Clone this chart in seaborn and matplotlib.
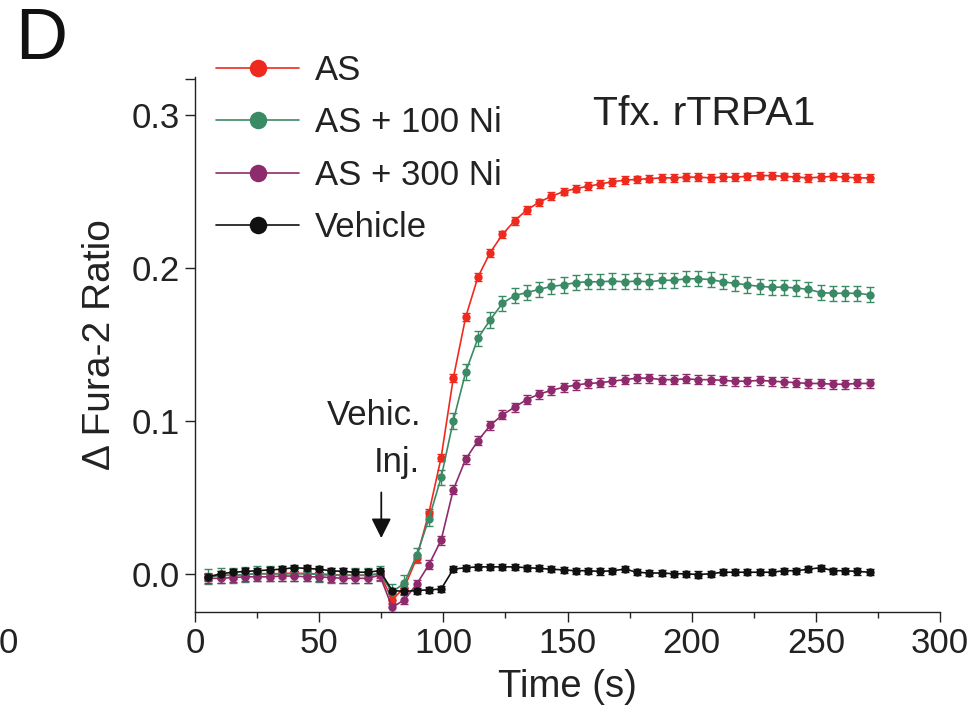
import numpy as np
import pandas as pd
import matplotlib
matplotlib.use("Agg")
import matplotlib.pyplot as plt
from matplotlib.ticker import FixedLocator
import seaborn as sns

time_s = [5.4, 10.3, 15.3, 20.2, 25.1, 30.1, 35.0, 39.9, 44.9, 49.8, 54.7, 59.6, 64.6, 69.5,
          74.4, 79.4, 84.3, 89.2, 94.2, 99.1, 104.0, 109.0, 113.9, 118.8, 123.8, 128.7, 133.6,
          138.5, 143.5, 148.4, 153.3, 158.3, 163.2, 168.1, 173.1, 178.0, 182.9, 187.9, 192.8,
          197.7, 202.6, 207.6, 212.5, 217.4, 222.4, 227.3, 232.2, 237.2, 242.1, 247.0, 252.0,
          256.9, 261.8, 266.7, 271.7]

as_vals = [-0.002, -0.001, -0.001, -0.0005, 0.0, 0.0, 0.0, 0.0005, 0.0, 0.0, -0.0005, -0.001,
           -0.001, -0.001, 0.0, -0.017, -0.009, 0.010, 0.040, 0.076, 0.128, 0.168, 0.194, 0.210,
           0.222, 0.231, 0.238, 0.243, 0.247, 0.250, 0.252, 0.2535, 0.255, 0.2565, 0.2575, 0.258,
           0.2585, 0.259, 0.259, 0.2595, 0.2595, 0.259, 0.2595, 0.2595, 0.260, 0.2605, 0.2605,
           0.260, 0.2595, 0.259, 0.2595, 0.260, 0.2595, 0.259, 0.259]

as100_vals = [-0.002, -0.001, -0.001, -0.0005, 0.0, 0.0, 0.0, 0.0, 0.0, -0.0005, -0.001, -0.001,
              -0.001, -0.001, 0.0, -0.012, -0.006, 0.012, 0.036, 0.063, 0.100, 0.132, 0.154,
              0.166, 0.177, 0.182, 0.184, 0.186, 0.188, 0.189, 0.1905, 0.191, 0.191, 0.1915,
              0.191, 0.1915, 0.191, 0.192, 0.192, 0.193, 0.193, 0.1925, 0.191, 0.190, 0.189,
              0.188, 0.1875, 0.1875, 0.187, 0.186, 0.184, 0.1835, 0.1835, 0.1835, 0.1825]

as300_vals = [-0.003, -0.003, -0.0025, -0.002, -0.002, -0.002, -0.0015, -0.0015, -0.002, -0.002,
              -0.0025, -0.003, -0.003, -0.003, -0.001, -0.022, -0.017, -0.007, 0.006, 0.022,
              0.055, 0.075, 0.087, 0.097, 0.104, 0.109, 0.114, 0.1175, 0.120, 0.122, 0.1235,
              0.1245, 0.125, 0.126, 0.127, 0.128, 0.128, 0.127, 0.127, 0.1275, 0.127, 0.127,
              0.1265, 0.126, 0.126, 0.1265, 0.126, 0.1255, 0.125, 0.1245, 0.1245, 0.124, 0.124,
              0.1245, 0.1245]

vehicle_vals = [-0.002, 0.0, 0.001, 0.0015, 0.002, 0.0025, 0.003, 0.004, 0.0035, 0.003, 0.002,
                0.0015, 0.001, 0.001, 0.002, -0.011, -0.0115, -0.011, -0.0105, -0.010, 0.003,
                0.004, 0.0045, 0.0045, 0.0045, 0.0045, 0.004, 0.0035, 0.003, 0.0025, 0.002, 0.002,
                0.0015, 0.002, 0.003, 0.001, 0.0005, 0.0005, 0.0, 0.0, -0.0005, 0.0, 0.001, 0.001,
                0.001, 0.001, 0.001, 0.002, 0.002, 0.003, 0.004, 0.002, 0.002, 0.0015, 0.001]

series_names = ["AS", "AS + 100 Ni", "AS + 300 Ni", "Vehicle"]
series_sem = [0.0025, 0.005, 0.003, 0.002]
series_colors = ["#EE2A1F", "#3B8A66", "#8E2B6C", "#111111"]

series_vals = [as_vals, as100_vals, as300_vals, vehicle_vals]
df = pd.concat([pd.DataFrame({"Time (s)": time_s, "ratio": v, "group": n})
                for n, v in zip(series_names, series_vals)], ignore_index=True)

sns.set_style("ticks")
plt.rcParams["font.family"] = ["Liberation Sans", "DejaVu Sans"]

fig = plt.figure(figsize=(9.76, 7.13), dpi=100)
ax = fig.add_axes([0.1998, 0.1417, 0.7634, 0.7503])

palette = dict(zip(series_names, series_colors))
for name, sem in zip(series_names, series_sem):
    sub = df[df["group"] == name]
    ax.errorbar(sub["Time (s)"], sub["ratio"], yerr=sem, fmt="none",
                ecolor=palette[name], elinewidth=1.0, capsize=3, capthick=1.0, zorder=2)

sns.lineplot(data=df, x="Time (s)", y="ratio", hue="group", hue_order=series_names,
             palette=palette, marker="o", markersize=6, markeredgewidth=0,
             linewidth=1.2, errorbar=None, ax=ax, zorder=3)

ax.set_xlim(0, 300)
ax.set_ylim(-0.025, 0.325)
ax.set_xticks([0, 50, 100, 150, 200, 250, 300])
ax.set_yticks([0.0, 0.1, 0.2, 0.3])
ax.set_yticklabels(["0.0", "0.1", "0.2", "0.3"])
ax.xaxis.set_minor_locator(FixedLocator([25, 75, 125, 175, 225, 275]))
ax.yaxis.set_minor_locator(FixedLocator([0.3235]))
ax.tick_params(axis="both", which="major", length=7, width=1.0, labelsize=25, color="#222222",
               labelcolor="#222222", pad=4)
ax.tick_params(axis="x", which="minor", length=4, width=1.0, color="#222222")
ax.tick_params(axis="y", which="minor", length=7, width=1.0, color="#222222")
for s in ["left", "bottom"]:
    ax.spines[s].set_linewidth(1.0)
    ax.spines[s].set_color("#222222")
sns.despine(ax=ax)

ax.set_xlabel("Time (s)", fontsize=27.5, color="#222222", labelpad=6)
ax.set_ylabel("\u0394 Fura-2 Ratio", fontsize=28, color="#222222", labelpad=10)

handles, labels = ax.get_legend_handles_labels()
leg = ax.legend(handles, labels, loc="upper left", bbox_to_anchor=(0.0, 1.082), frameon=False,
                fontsize=25, handlelength=2.4, handletextpad=0.45, labelspacing=0.56,
                markerscale=2.1, borderaxespad=0.2)
for t in leg.get_texts():
    t.set_color("#222222")

ax.text(205, 0.301, "Tfx. rTRPA1", fontsize=29.5, ha="center", va="center", color="#222222")
ax.text(91, 0.1035, "Vehic.", fontsize=25, ha="right", va="center", color="#222222")
ax.text(90.5, 0.0727, "Inj.", fontsize=25, ha="right", va="center", color="#222222")
ax.annotate("", xy=(75, 0.0215), xytext=(75, 0.055),
            arrowprops=dict(arrowstyle="-|>", color="#111111", lw=1.3, mutation_scale=30))

fig.text(0.016, 0.943, "D", fontsize=52, ha="left", va="center", color="#111111")
fig.text(0.009, 0.098, "0", fontsize=25, ha="center", va="center", color="#222222")

fig.savefig("out.png", dpi=100, facecolor="white")
